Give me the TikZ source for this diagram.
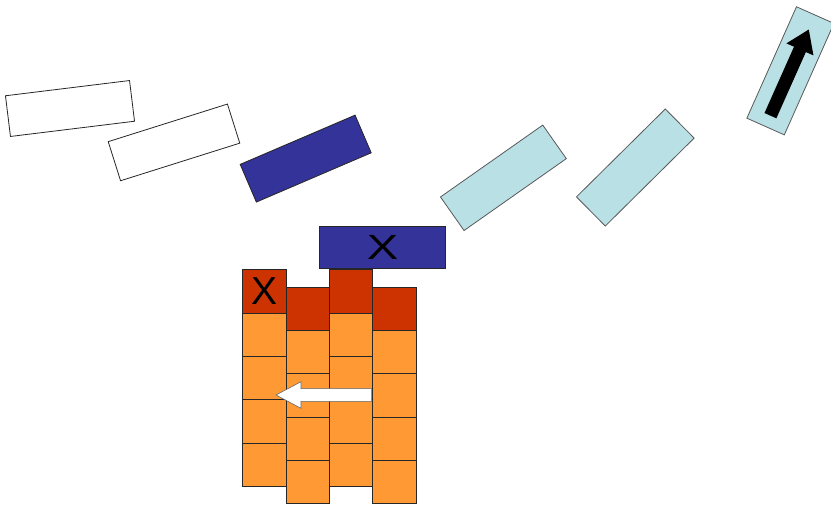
\documentclass[tikz,border=0pt]{standalone}
\usepackage{fontspec}
\setsansfont{Liberation Sans}
\usetikzlibrary{arrows.meta,calc}

\definecolor{bluscuro}{RGB}{51,51,153}
\definecolor{azzurro}{RGB}{185,224,228}
\definecolor{arancio}{RGB}{255,153,51}
\definecolor{rossomattone}{RGB}{204,51,0}

\begin{document}
\begin{tikzpicture}[x=1pt,y=-1pt]

\tikzset{
    tessera/.style={
        draw=black!85, line width=0.8pt,
        minimum width=125pt, minimum height=41pt,
        inner sep=0pt
    }
}

\tikzset{
    mattone/.style={
        draw=black!85, line width=0.7pt,
        minimum size=43.3pt, inner sep=0pt,
        anchor=north west
    }
}

\useasboundingbox (0,0) rectangle (831,504);

% tessere in volo
\node[tessera, fill=white, rotate=7] (t1) at (70,108.5) {};
\node[tessera, fill=white, rotate=17.5] (t2) at (174,142.4) {};
\node[tessera, fill=bluscuro, rotate=23.2] (t3) at (305.7,158.6) {};
\node[tessera, fill=azzurro, draw=black!65, rotate=35.1] (t4) at (503.4,177.8) {};
\node[tessera, fill=azzurro, draw=black!65, rotate=44.7] (t5) at (635.3,167.5) {};
\node[tessera, fill=azzurro, draw=black!65, rotate=66,
      minimum width=122pt] (t6) at (790.4,70.8) {};

% freccia nera
\draw[line width=13pt, -{Triangle[length=22pt,width=28pt]}]
($(t6.west)!0.1!(t6.east)$) -- ($(t6.west)!0.87!(t6.east)$);

% tessera appoggiata
\node[tessera, fill=bluscuro, minimum width=126pt, minimum height=42.6pt,
      anchor=north west] (t7) at (319.3,225.7) {};
\node[font=\sffamily\fontsize{35}{35}\selectfont] (croce1) at (t7.center)
{\scalebox{1.35}[1]{X}};

% pila
\foreach \c in {0,...,3} {
    \pgfmathsetmacro{\xa}{242.3+43.3*\c}
    \pgfmathsetmacro{\ya}{269.3+17.4*mod(\c,2)}
    \node[mattone, fill=rossomattone] (m\c-0) at (\xa,\ya) {};
    \foreach \r in {1,...,4} {
        \node[mattone, fill=arancio] (m\c-\r) at (\xa,{\ya+43.3*\r}) {};
    }
}
\node[font=\sffamily\fontsize{39}{39}\selectfont] (croce2) at (m0-0.center) {X};

% freccia bianca
\draw[fill=white, draw=black!60, line width=0.6pt]
(371.7,388.6) -- (301,388.6) -- (301,381.7) -- (276,395) -- (301,408.3)
-- (301,401.4) -- (371.7,401.4) -- cycle;

\end{tikzpicture}
\end{document}
